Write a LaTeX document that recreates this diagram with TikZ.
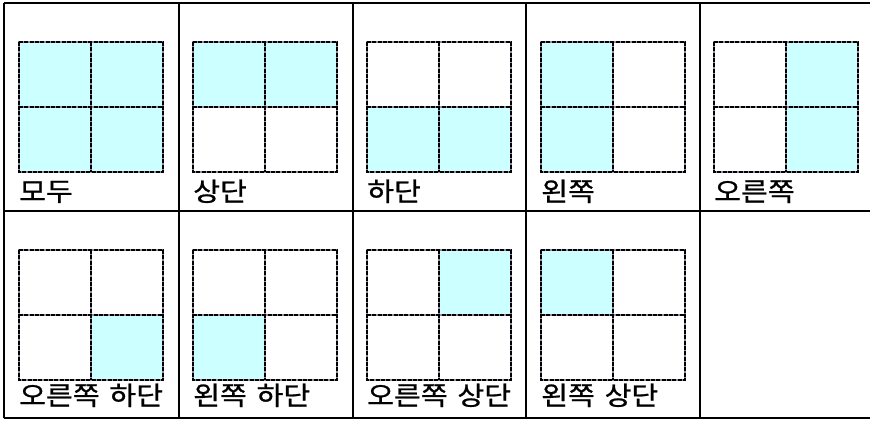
\documentclass[tikz,border=0pt]{standalone}
\usepackage{fontspec}
\newfontfamily\krfont[FakeStretch=1.12,FakeBold=0.9,WordSpace=1.5]{Noto Sans CJK KR}
\definecolor{lightcyan}{HTML}{CCFFFF}
\definecolor{dashgap}{HTML}{9A8AA6}
\begin{document}
\begin{tikzpicture}[x=0.75pt,y=-0.75pt,
  tableline/.style={line width=1.7pt, black},
  gridbase/.style={line width=1.2pt, dashgap},
  gridline/.style={line width=1.2pt, dash pattern=on 3pt off 1pt, black},
  cyanfill/.style={fill=lightcyan},
  lbl/.style={anchor=base west, inner sep=0pt, font=\krfont\fontsize{19.5}{22}\selectfont}]
\useasboundingbox (0,0) rectangle (870,421);
\fill[white] (0,0) rectangle (870,421);
% panels: x, y-top, TL, TR, BL, BR, label baseline, text, name
\foreach \gx/\gy/\a/\b/\c/\d/\ly/\t/\n in {
  19/42/1/1/1/1/201/모두/p1,
  193/42/1/1/0/0/201/상단/p2,
  367/42/0/0/1/1/201/하단/p3,
  541/42/1/0/1/0/201/왼쪽/p4,
  714/42/0/1/0/1/201/오른쪽/p5,
  19/250/0/0/0/1/405/오른쪽 하단/p6,
  193/250/0/0/1/0/405/왼쪽 하단/p7,
  367/250/0/1/0/0/405/오른쪽 상단/p8,
  541/250/1/0/0/0/405/왼쪽 상단/p9}{
  \ifnum\a=1 \fill[cyanfill] (\gx,\gy) rectangle ++(72,65);\fi
  \ifnum\b=1 \fill[cyanfill] (\gx+72,\gy) rectangle ++(72,65);\fi
  \ifnum\c=1 \fill[cyanfill] (\gx,\gy+65) rectangle ++(72,65);\fi
  \ifnum\d=1 \fill[cyanfill] (\gx+72,\gy+65) rectangle ++(72,65);\fi
  \foreach \st in {gridbase,gridline}{
    \draw[\st] (\gx,\gy) rectangle ++(144,130);
    \draw[\st] (\gx+72,\gy) -- ++(0,130);
    \draw[\st] (\gx,\gy+65) -- ++(144,0);
  }
  \node[lbl] (\n) at (\gx,\ly) {\t};
}
% table rules
\foreach \yy in {3,211,418}{
  \draw[tableline] (4,\yy) -- (872,\yy);
}
\foreach \xx in {4,179,353,526,700}{
  \draw[tableline] (\xx,3) -- (\xx,418);
}
\end{tikzpicture}
\end{document}
